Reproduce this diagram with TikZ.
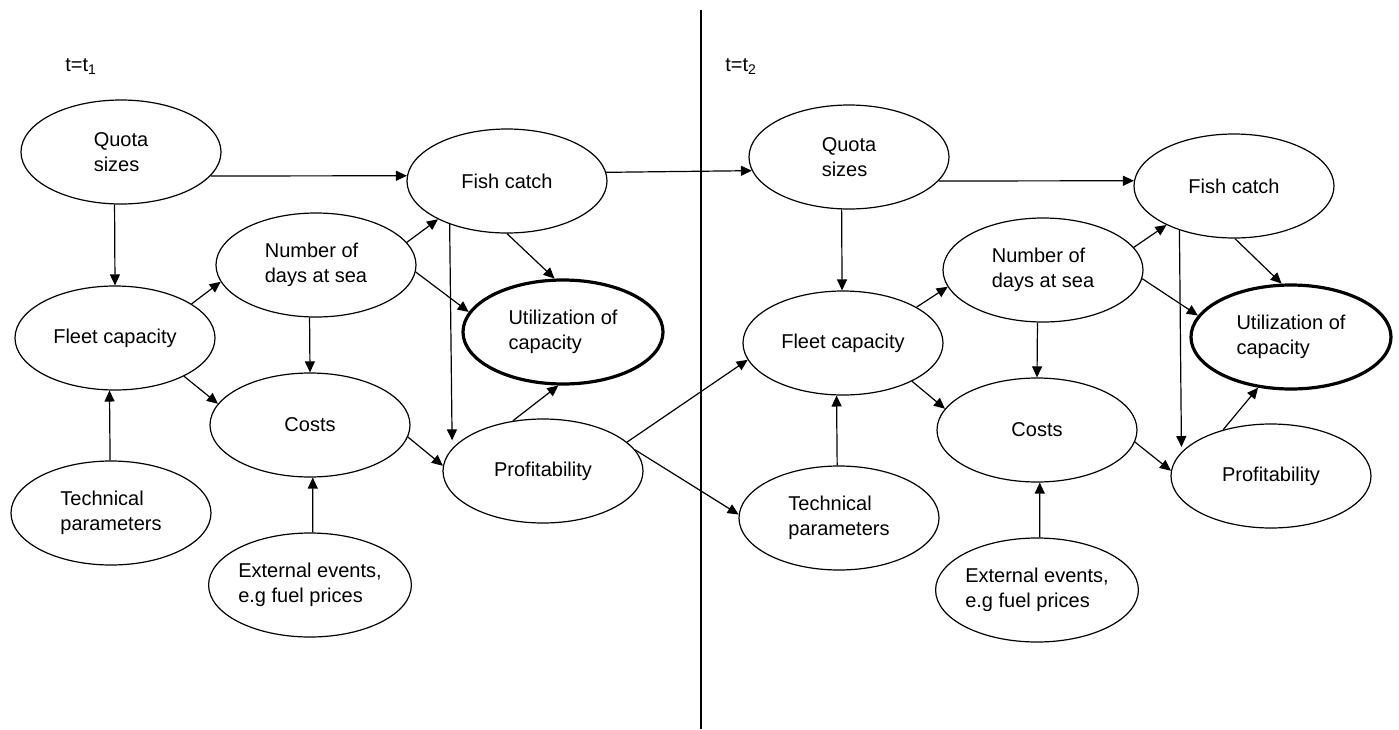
\documentclass[tikz,border=0pt]{standalone}
\usepackage{fontspec}
\setmainfont{Liberation Sans}
\usetikzlibrary{shapes.geometric,arrows.meta}
\begin{document}
\begin{tikzpicture}[x=0.5pt,y=-0.5pt,
  ell/.style={ellipse,draw,line width=0.6pt,minimum width=100pt,minimum height=52pt,inner sep=0pt,align=left,font=\fontsize{10}{12.5}\selectfont},
  ellthick/.style={ell,line width=1.6pt},
  arr/.style={-{Triangle[length=5.5pt,width=5pt]},line width=0.6pt},
  lbl/.style={anchor=base west,inner sep=0pt,font=\fontsize{10}{12}\selectfont}]
\useasboundingbox (0,0) rectangle (1399,729);

% divider
\coordinate (divtop) at (701,10);
\coordinate (divbot) at (701,729);
\draw[line width=0.7pt] (divtop) -- (divbot);

% labels
\node[lbl] (lt1) at (65,71) {t=t\textsubscript{1}};
\node[lbl] (lt2) at (725,71) {t=t\textsubscript{2}};

% t1 nodes
\node[ell] (Q1) at (121,152) {Quota\\sizes};
\node[ell] (F1) at (507,181) {Fish catch};
\node[ell] (N1) at (316,265) {Number of\\days at sea};
\node[ell] (FC1) at (115,338) {Fleet capacity};
\node[ellthick] (U1) at (563,332) {Utilization of\\capacity};
\node[ell] (C1) at (310,425) {Costs};
\node[ell] (P1) at (543,471) {Profitability};
\node[ell] (T1) at (111,513) {Technical\\parameters};
\node[ell] (E1) at (310,585) {External events,\\e.g fuel prices};

% t2 nodes
\node[ell] (Q2) at (849,157) {Quota\\sizes};
\node[ell] (F2) at (1234,186) {Fish catch};
\node[ell] (N2) at (1043,270) {Number of\\days at sea};
\node[ell] (FC2) at (843,343) {Fleet capacity};
\node[ellthick] (U2) at (1291,337) {Utilization of\\capacity};
\node[ell] (C2) at (1037,430) {Costs};
\node[ell] (P2) at (1271,476) {Profitability};
\node[ell] (T2) at (839,518) {Technical\\parameters};
\node[ell] (E2) at (1037,590) {External events,\\e.g fuel prices};

% t1 arrows
\draw[arr] (Q1.-15) -- (F1.177);
\draw[arr] (Q1.263.5) -- (FC1.90);
\draw[arr] (FC1.24.4) -- (N1.190);
\draw[arr] (N1.14.2) -- (F1.209.5);
\draw[arr] (N1.-4.6) -- (U1.168.8);
\draw[arr] (F1.-90) -- (U1.99.8);
\draw[arr,shorten >=4pt] (F1.217.8) -- (P1.166.6);
\draw[arr] (N1.263.5) -- (C1.90);
\draw[arr] (FC1.-29.1) -- (C1.167.5);
\draw[arr] (T1.91) -- (FC1.264.5);
\draw[arr] (E1.87) -- (C1.273);
\draw[arr] (C1.-7.6) -- (P1.177.7);
\draw[arr] (P1.121.5) -- (U1.265.2);
\draw[arr] (P1.19.7) -- (FC2.190);
\draw[arr] (P1.13.3) -- (T2.178.9);
\draw[arr] (F1.5.65) -- (Q2.188.4);

% t2 arrows
\draw[arr] (Q2.-15.5) -- (F2.177.8);
\draw[arr] (Q2.262.3) -- (FC2.91);
\draw[arr] (FC2.26.3) -- (N2.190);
\draw[arr] (N2.14) -- (F2.210.7);
\draw[arr] (N2.-5.1) -- (U2.167.8);
\draw[arr] (F2.271) -- (U2.100.6);
\draw[arr,shorten >=2.5pt] (F2.219.4) -- (P2.165.8);
\draw[arr] (N2.264.5) -- (C2.90);
\draw[arr] (FC2.-29.5) -- (C2.167.5);
\draw[arr] (T2.92) -- (FC2.263.5);
\draw[arr] (E2.87) -- (C2.273);
\draw[arr] (C2.-7.4) -- (P2.177.7);
\draw[arr] (P2.136.8) -- (U2.237.3);
\end{tikzpicture}
\end{document}
